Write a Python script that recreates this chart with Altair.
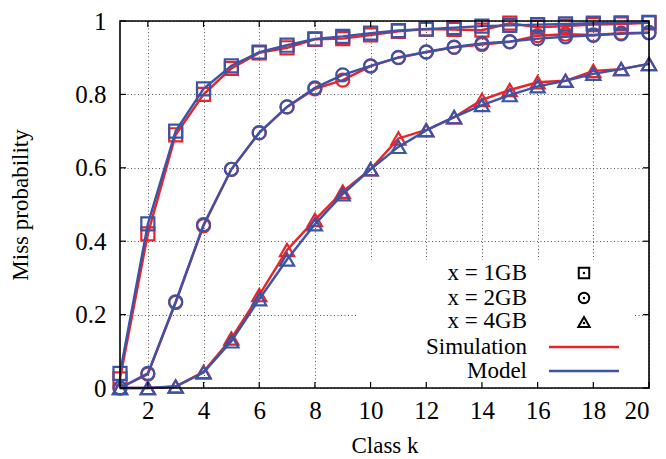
import altair as alt
import pandas as pd

# Class index k
k = list(range(1, 21))

# Miss probability per class, simulation vs. analytical model, for three cache sizes
sim_1gb = [0.025, 0.42, 0.69, 0.80, 0.871, 0.913, 0.927, 0.95, 0.952, 0.962,
           0.972, 0.978, 0.977, 0.975, 0.994, 0.983, 0.986, 0.99, 0.992, 0.995]
mod_1gb = [0.04, 0.447, 0.70, 0.815, 0.878, 0.915, 0.934, 0.951, 0.958, 0.967,
           0.974, 0.978, 0.982, 0.986, 0.988, 0.99, 0.992, 0.994, 0.995, 0.996]
sim_2gb = [0.0, 0.038, 0.233, 0.442, 0.596, 0.695, 0.766, 0.815, 0.839, 0.877,
           0.9, 0.915, 0.928, 0.936, 0.943, 0.96, 0.964, 0.962, 0.967, 0.968]
mod_2gb = [0.0, 0.04, 0.235, 0.445, 0.596, 0.696, 0.766, 0.818, 0.853, 0.878,
           0.901, 0.916, 0.929, 0.939, 0.944, 0.952, 0.957, 0.961, 0.965, 0.968]
sim_4gb = [0.0, 0.0, 0.004, 0.044, 0.135, 0.253, 0.376, 0.458, 0.535, 0.596,
           0.68, 0.703, 0.738, 0.785, 0.812, 0.833, 0.837, 0.864, 0.869, 0.883]
mod_4gb = [0.0, 0.0, 0.004, 0.042, 0.127, 0.242, 0.35, 0.446, 0.528, 0.596,
           0.657, 0.702, 0.738, 0.771, 0.798, 0.822, 0.837, 0.856, 0.869, 0.883]

x_ticks = [2, 4, 6, 8, 10, 12, 14, 16, 18, 20]
y_ticks = [0, 0.2, 0.4, 0.6, 0.8, 1.0]

size_labels = ["x = 1GB", "x = 2GB", "x = 4GB"]
source_labels = ["Simulation", "Model"]
shapes = ["square", "circle", "triangle-up"]
marker_sizes = [170, 170, 200]

RED = "#e8232a"
BLUE = "#3a54a6"
FONT = "Liberation Serif"
W, H = 529, 367

series = {
    ("Simulation", "x = 1GB"): sim_1gb,
    ("Model", "x = 1GB"): mod_1gb,
    ("Simulation", "x = 2GB"): sim_2gb,
    ("Model", "x = 2GB"): mod_2gb,
    ("Simulation", "x = 4GB"): sim_4gb,
    ("Model", "x = 4GB"): mod_4gb,
}

rows = []
for (src, sz), vals in series.items():
    for kk, v in zip(k, vals):
        rows.append({"k": kk, "p": v, "source": src, "size": sz})
df = pd.DataFrame(rows)

x_scale = alt.Scale(domain=[1, 20], nice=False, zero=False)
y_scale = alt.Scale(domain=[0, 1], nice=False)

x_enc = alt.X("k:Q", scale=x_scale,
              axis=alt.Axis(values=x_ticks, title="Class k", grid=True,
                            labelPadding=10, titlePadding=11))
y_enc = alt.Y("p:Q", scale=y_scale,
              axis=alt.Axis(values=y_ticks, title="Miss probability", grid=True,
                            format=".1~f", labelPadding=14, titlePadding=42))

# Axes with dotted grid
base = alt.Chart(df).mark_point(opacity=0).encode(x=x_enc, y=y_enc)

# White key background
key_bg = alt.Chart(pd.DataFrame({"a": [0]})).mark_rect(fill="white").encode(
    x=alt.value(237), x2=alt.value(513), y=alt.value(239), y2=alt.value(366))


def series_layers(src, color):
    d = df[df["source"] == src]
    layers = []
    for sz, shp, ms in zip(size_labels, shapes, marker_sizes):
        ds = d[d["size"] == sz]
        line = alt.Chart(ds).mark_line(color=color, strokeWidth=2.4).encode(
            x="k:Q", y="p:Q")
        pts = alt.Chart(ds).mark_point(color=color, shape=shp, size=ms,
                                       filled=False, strokeWidth=2.2,
                                       opacity=1).encode(x="k:Q", y="p:Q")
        layers += [line, pts]
    return layers


red_layers = series_layers("Simulation", RED)
blue_layers = series_layers("Model", BLUE)

# Frame and inward ticks
frame = alt.Chart(pd.DataFrame({"a": [0]})).mark_rect(
    fill=None, stroke="black", strokeWidth=1.6).encode(
    x=alt.value(0), x2=alt.value(W), y=alt.value(0), y2=alt.value(H))

xt = pd.DataFrame({"k": x_ticks})
yt = pd.DataFrame({"p": y_ticks})
tick_layers = [
    alt.Chart(xt).mark_rule(color="black", strokeWidth=1.2).encode(
        x=alt.X("k:Q", scale=x_scale), y=alt.value(H), y2=alt.value(H - 6)),
    alt.Chart(xt).mark_rule(color="black", strokeWidth=1.2).encode(
        x=alt.X("k:Q", scale=x_scale), y=alt.value(0), y2=alt.value(6)),
    alt.Chart(yt).mark_rule(color="black", strokeWidth=1.2).encode(
        y=alt.Y("p:Q", scale=y_scale), x=alt.value(0), x2=alt.value(6)),
    alt.Chart(yt).mark_rule(color="black", strokeWidth=1.2).encode(
        y=alt.Y("p:Q", scale=y_scale), x=alt.value(W), x2=alt.value(W - 6)),
]

# Key entries
key_rows_y = [252, 277, 300, 326, 350]
key_layers = []
one = pd.DataFrame({"a": [0]})
for label, yy in zip(size_labels + source_labels, key_rows_y):
    key_layers.append(alt.Chart(one).mark_text(
        text=label, align="right", baseline="middle", font=FONT, fontSize=23,
        color="black").encode(x=alt.value(407), y=alt.value(yy)))
for shp, yy in zip(shapes, key_rows_y[:3]):
    key_layers.append(alt.Chart(one).mark_point(
        shape=shp, size=110 if shp != "triangle-up" else 130, filled=False,
        color="black", strokeWidth=2, opacity=1).encode(
        x=alt.value(464), y=alt.value(yy + (1 if shp == "triangle-up" else 0))))
    key_layers.append(alt.Chart(one).mark_point(
        shape="circle", size=6, filled=True, color="black", opacity=1).encode(
        x=alt.value(464), y=alt.value(yy + (2 if shp == "triangle-up" else 0))))
for color, yy in zip([RED, BLUE], key_rows_y[3:]):
    key_layers.append(alt.Chart(one).mark_rule(color=color, strokeWidth=2.4).encode(
        x=alt.value(429), x2=alt.value(499), y=alt.value(yy)))

chart = alt.layer(
    base, key_bg, *red_layers, *blue_layers, frame, *tick_layers, *key_layers
).properties(
    width=W, height=H,
    autosize=alt.AutoSizeParams(type="none"),
    padding={"left": 120, "top": 21, "right": 17, "bottom": 71},
).configure_view(stroke=None).configure_axis(
    domain=False, ticks=False,
    labelFont=FONT, labelFontSize=25, labelColor="black",
    titleFont=FONT, titleFontSize=23, titleColor="black", titleFontWeight="normal",
    gridColor="#555555", gridDash=[1, 2.5], gridWidth=1, gridOpacity=1,
)

chart.save("out.html", embed_options={"renderer": "svg", "actions": False})
